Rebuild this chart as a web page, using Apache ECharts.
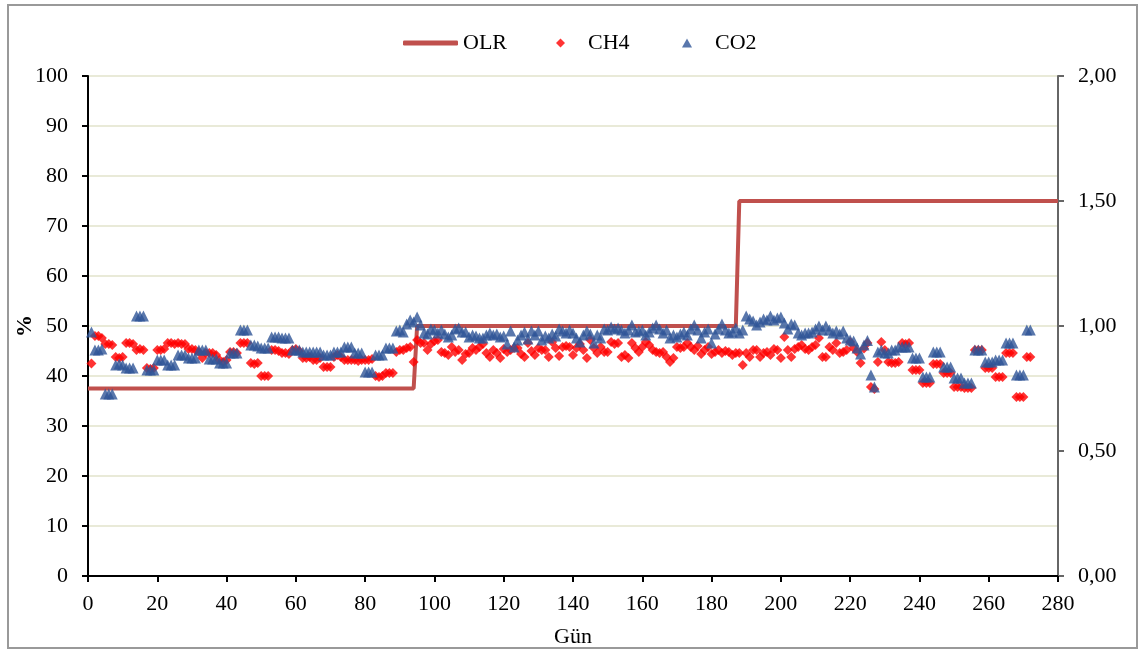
<!DOCTYPE html>
<html><head><meta charset="utf-8">
<script src="https://cdn.jsdelivr.net/npm/echarts@6/dist/echarts.min.js"></script>
<style>html,body{margin:0;padding:0;background:#fff}#c{width:1144px;height:652px}</style>
</head><body><div id="c"></div>
<script>
// Day of first measurement; one value per day after it
const firstDay = 1;
const ch4 = [42.5,48,48,47.6,46.4,46.4,46.2,43.8,43.6,43.8,46.6,46.6,46.4,45.2,45.4,45.2,41.6,41.4,41.6,45.2,
45.2,45.4,46.6,46.6,46.4,46.6,46.4,46.4,45.4,45.4,45.2,44.8,43.6,44.6,44.6,44.6,44.2,43.2,42.8,43.2,
44.8,44.8,44.6,46.6,46.6,46.6,42.6,42.4,42.6,40,40,40,45.2,45.2,45,44.6,44.6,44.4,45.2,45.4,
45,43.6,43.6,43.8,43.2,43.2,43.6,41.8,41.8,41.8,43.8,44.2,43.8,43.2,43.2,43.2,43.2,43,43.2,43.2,
43.2,43.4,40,39.8,40,40.6,40.6,40.6,44.8,45.2,45.2,45.6,45.8,42.8,47.2,46.6,46.6,45.2,46.4,47,
47.2,44.8,44.6,44.2,45.8,44.8,45.2,43.2,44.4,44.6,45.6,45.2,45.8,46.4,44.6,43.8,45.2,44.6,43.6,45.4,
44.8,45.2,45.6,45.6,44.4,43.8,46.6,45,44.2,45.6,45.2,45.2,43.8,46.8,45.6,44,45.8,46,45.8,44.2,
45.6,46.4,45.2,43.6,47.2,45.6,44.6,45.8,44.8,44.8,46.8,46.4,46.6,43.8,44.2,43.6,46.6,45.6,44.8,45.8,
46.8,46.2,45.2,44.8,44.6,44.8,43.8,42.8,43.6,45.8,45.6,45.8,46.6,45.8,45.2,46,44.4,45.2,45.8,44.4,
44.8,45.2,44.6,45,44.8,44.2,44.6,44.6,42.2,44.6,43.8,45.2,45.2,43.8,44.6,44.8,44.2,45.4,45.2,43.6,
47.8,45.2,43.8,45.4,45.8,46.2,45.4,45.2,45.8,46.2,47.6,43.8,43.8,45.8,45.2,46.6,44.6,44.8,45.2,46.8,
45.6,44.8,42.6,45.5,46.6,37.8,37.4,42.8,46.8,45.2,42.8,42.6,42.6,42.8,46.6,46.4,46.6,41.2,41.2,41.2,
38.6,38.6,38.6,42.4,42.4,42.4,40.6,40.6,40.6,37.8,37.8,37.8,37.6,37.6,37.6,45.2,45.2,45.2,41.6,41.6,
41.6,39.8,39.8,39.8,44.6,44.6,44.6,35.8,35.8,35.8,43.8,43.8];
const co2 = [48.8,45.2,45.2,45.4,36.4,36.4,36.4,42.2,42.4,42.2,41.6,41.6,41.6,52,52,52,41.2,41.2,41.2,43.2,
43.2,43.2,42.2,42.2,42.2,44.2,44.2,44.2,43.6,43.6,43.6,45.2,45.2,45.2,43.4,43.4,43.4,42.6,42.6,42.6,
44.6,44.6,44.6,49.2,49.2,49.2,46.2,46.2,46,45.6,45.6,45.6,47.8,47.8,47.8,47.6,47.6,47.6,45.2,45.2,
45.2,44.8,44.8,44.8,44.8,44.8,44.8,44.2,44.2,44.2,44.8,44.8,44.8,45.8,45.8,45.8,44.6,44.6,44.6,40.8,
40.8,40.8,44.2,44.2,44.2,45.6,45.6,45.6,49,49.2,48.8,50.4,51.2,50.8,51.8,50.2,48.6,48.4,49.4,49.2,
48.6,49.2,48.4,47.8,48.2,49.4,49.6,48.8,48.8,47.8,48.2,48,47.6,47.6,48.2,48.6,48.2,48.4,47.8,48,
46.4,49,45.8,47.2,48.2,48.8,47.4,49,48.2,49,47.2,48,47.6,48.4,48,49.4,49,48.6,49.2,48.6,
47.6,46.8,48.2,49,48.4,46.6,48.2,47.6,49.4,49.2,49.8,49.4,49.6,49.2,48.6,49.2,50.2,48.8,49,49.2,
48.2,48.8,49.6,50.2,49.4,48.6,49.2,47.6,48.2,47.8,48.4,48.8,48.2,49.4,50.2,49.2,47.6,48.8,49.4,46.6,
48.4,49.4,50.4,49.2,48.6,48.8,49.6,48.6,49.2,52,51.4,51,50.2,50.8,51.4,51.2,52,51.2,51.6,51.8,
50.6,49.4,50.4,50.2,48.6,48.2,48.6,48.6,48.8,49.4,50,49.2,50,49.2,48.6,49,48.4,49,47.6,47.2,
47,45.6,44.4,46.2,47.1,40.2,37.8,44.8,45.2,44.6,44.6,45.2,45.2,45.8,45.8,45.8,45.8,43.6,43.6,43.6,
39.8,39.8,39.8,44.8,44.8,44.8,41.8,41.8,41.8,39.6,39.6,39.6,38.6,38.6,38.6,45.2,45.2,45.2,42.8,42.8,
42.8,43.2,43.2,43.2,46.6,46.6,46.6,40.2,40.2,40.2,49.2,49.2];
// OLR step function: [day, value]
const olrDays = [0, 94, 95, 187, 188, 280];
const olrVals = [0.75, 0.75, 1.0, 1.0, 1.5, 1.5];
const rightTicks = ['0,00','0,50','1,00','1,50','2,00'];

const toPairs = arr => arr.map((v, i) => [firstDay + i, v]);
const font = 'Liberation Serif';
const legText = {fontFamily: font, fontSize: 22, color: '#000'};
const chart = echarts.init(document.getElementById('c'));
chart.setOption({
  animation: false,
  textStyle: {fontFamily: font, color: '#000'},
  graphic: [{type: 'rect', shape: {x: 8, y: 5, width: 1129, height: 643},
    style: {fill: 'none', stroke: '#999', lineWidth: 2}, silent: true}],
  legend: [
    {top: 27, left: 398, itemWidth: 55, itemHeight: 5, textStyle: legText,
     data: [{name: 'OLR', icon: 'roundRect'}]},
    {top: 27, left: 551, itemWidth: 9, itemHeight: 9,
     textStyle: Object.assign({padding: [0, 0, 0, 18]}, legText),
     data: [{name: 'CH4', icon: 'diamond'}]},
    {top: 27, left: 677, itemWidth: 10, itemHeight: 9,
     textStyle: Object.assign({padding: [0, 0, 0, 18]}, legText),
     data: [{name: 'CO2', icon: 'triangle'}]}
  ],
  grid: {left: 88, right: 86, top: 76, bottom: 76, containLabel: false, outerBoundsMode: 'none'},
  xAxis: {
    type: 'value', min: 0, max: 280, interval: 20,
    name: 'Gün', nameLocation: 'middle', nameGap: 50, nameMoveOverlap: false,
    nameTextStyle: {fontFamily: font, fontSize: 22, color: '#000'},
    axisLine: {show: true, lineStyle: {color: '#000', width: 2}},
    axisTick: {show: true, inside: false, length: 6, lineStyle: {color: '#000', width: 2}},
    axisLabel: {fontFamily: font, fontSize: 22, color: '#000', margin: 17},
    splitLine: {show: false}
  },
  yAxis: [{
    type: 'value', min: 0, max: 100, interval: 10,
    name: '%', nameLocation: 'middle', nameGap: 52, nameRotate: 90, nameMoveOverlap: false,
    nameTextStyle: {fontFamily: font, fontSize: 22, fontWeight: 'bold', color: '#000'},
    axisLine: {show: true, lineStyle: {color: '#000', width: 2}},
    axisTick: {show: true, length: 6, lineStyle: {color: '#000', width: 2}},
    axisLabel: {fontFamily: font, fontSize: 22, color: '#000', margin: 20},
    splitLine: {show: true, lineStyle: {color: '#e9ead8', width: 2}}
  }, {
    type: 'value', min: 0, max: 2, interval: 0.5, position: 'right',
    axisLine: {show: true, lineStyle: {color: '#666', width: 2}},
    axisTick: {show: true, length: 6, lineStyle: {color: '#666', width: 2}},
    axisLabel: {fontFamily: font, fontSize: 22, color: '#000', margin: 20,
      formatter: v => rightTicks[Math.round(v / 0.5)]},
    splitLine: {show: false}
  }],
  series: [{
    name: 'OLR', type: 'line', yAxisIndex: 1, showSymbol: false, symbol: 'none',
    data: olrDays.map((d, i) => [d, olrVals[i]]),
    lineStyle: {color: '#c0504d', width: 4}, itemStyle: {color: '#c0504d'}, z: 3
  }, {
    name: 'CH4', type: 'scatter', symbol: 'diamond', symbolSize: 10,
    data: toPairs(ch4), itemStyle: {color: '#ff0000'}, z: 4
  }, {
    name: 'CO2', type: 'scatter', symbol: 'triangle', symbolSize: 11,
    data: toPairs(co2), itemStyle: {color: '#2f5597'}, z: 5
  }]
});
</script></body></html>
